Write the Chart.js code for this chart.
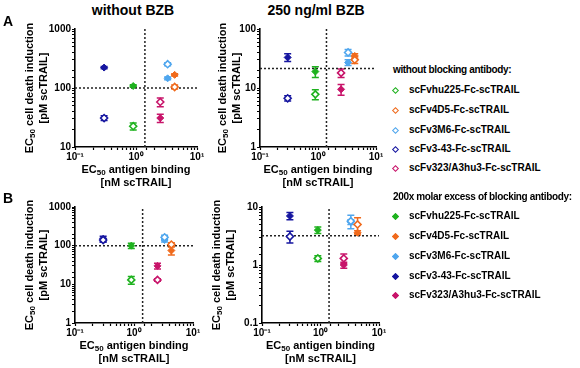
<!DOCTYPE html>
<html>
<head>
<meta charset="utf-8">
<script src="https://cdn.jsdelivr.net/npm/chart.js@4"></script>
<style>
  body { margin: 0; background: #fff; font-family: "Liberation Sans", Arial, sans-serif; }
  #wrap { position: relative; width: 580px; height: 368px; overflow: hidden; }
  canvas { position: absolute; }
  .t { position: absolute; font-weight: bold; color: #000; white-space: nowrap; }
  .title { font-size: 14px; transform: translateX(-50%); }
  .xt { font-size: 11px; transform: translateX(-50%); text-align: center; line-height: 13px; }
  .yt { font-size: 11px; transform: translate(-50%, -50%) rotate(-90deg); line-height: 13px; }
  .letter { font-size: 14px; }
  .leg { font-size: 10px; line-height: 12px; }
  .hdr { font-size: 10px; line-height: 12px; letter-spacing: -0.35px; }
  .mk { position: absolute; width: 5px; height: 5px; transform: rotate(45deg); box-sizing: border-box; }
  sub { font-size: 8px; vertical-align: -2px; line-height: 0; }
</style>
</head>
<body>
<div id="wrap"></div>
<script>
const antibodies = ['scFvhu225-Fc-scTRAIL', 'scFv4D5-Fc-scTRAIL', 'scFv3M6-Fc-scTRAIL', 'scFv3-43-Fc-scTRAIL', 'scFv323/A3hu3-Fc-scTRAIL'];
const colors = ['#1fb21f', '#f06a1c', '#4fa6ee', '#1616a0', '#c8146a'];

// EC50 antigen binding (nM), same for all panels
const binding = [0.9, 4.3, 3.3, 0.3, 2.5];
const bindingCut = 1.4;

// A, without BZB
const a1Open = [22.5, 104, 253, 31, 58];
const a1OpenErr = [3, 8, 15, 3, 10];
const a1Filled = [108, 167, 146, 222, 31];
const a1FilledErr = [5, 8, 8, 10, 5];
// A, 250 ng/ml BZB
const a2Open = [7.8, 30, 40, 6.7, 18];
const a2OpenErr = [1.5, 4, 5, 0.7, 3];
const a2Filled = [19, 35, 27, 33, 9.5];
const a2FilledErr = [4, 3, 3, 5, 2];
// B, without BZB
const b1Open = [13, 107, 165, 140, 13];
const b1OpenErr = [3, 12, 20, 15, 1];
const b1Filled = [100, 75, 140, 150, 30];
const b1FilledErr = [15, 18, 15, 25, 5];
// B, 250 ng/ml BZB
const b2Open = [1.3, 5.0, 5.7, 3.1, 1.3];
const b2OpenErr = [0.15, 1.5, 1.5, 0.7, 0.25];
const b2Filled = [4.0, 3.6, 5.5, 7.0, 1.0];
const b2FilledErr = [0.5, 0.3, 0.5, 1.0, 0.12];

const xRange = [0.1, 10];
const xTickLabels = { '-1': '10\u207B\u00B9', '0': '10\u2070', '1': '10\u00B9' };

const wrap = document.getElementById('wrap');
const FONT = '"Liberation Sans", Arial, sans-serif';

const errorBars = {
    id: 'errorBars',
    beforeDatasetsDraw(chart) {
        const ctx = chart.ctx;
        const x = chart.scales.x, y = chart.scales.y;
        chart.data.datasets.forEach(ds => {
            if (!ds.errors) return;
            ds.data.forEach((p, i) => {
                const e = ds.errors[i];
                const px = x.getPixelForValue(p.x);
                const top = y.getPixelForValue(p.y + e);
                const bot = y.getPixelForValue(p.y - e);
                ctx.save();
                ctx.strokeStyle = colors[i];
                ctx.lineWidth = 1.5;
                ctx.beginPath();
                ctx.moveTo(px, top); ctx.lineTo(px, bot);
                ctx.moveTo(px - 3.5, top); ctx.lineTo(px + 3.5, top);
                ctx.moveTo(px - 3.5, bot); ctx.lineTo(px + 3.5, bot);
                ctx.stroke();
                ctx.restore();
            });
        });
    }
};

function isDecade(v) {
    const l = Math.log10(v);
    return Math.abs(l - Math.round(l)) < 1e-6;
}

function addText(html, cls, left, top) {
    const d = document.createElement('div');
    d.className = 't ' + cls;
    d.style.left = left + 'px';
    d.style.top = top + 'px';
    d.innerHTML = html;
    wrap.appendChild(d);
    return d;
}

function makePanel(box, yRange, yCut, open, openErr, filled, filledErr) {
    const padL = 45, padT = 9, padR = 13, padB = 18;
    const c = document.createElement('canvas');
    const w = box.r - box.l + padL + padR;
    const h = box.b - box.t + padT + padB;
    c.width = w; c.height = h;
    c.style.left = (box.l - padL) + 'px';
    c.style.top = (box.t - padT) + 'px';
    wrap.appendChild(c);

    const pts = vals => vals.map((v, i) => ({ x: binding[i], y: v }));

    new Chart(c, {
        type: 'scatter',
        data: {
            datasets: [
                {
                    data: pts(open), errors: openErr,
                    pointStyle: 'rectRot', pointRadius: 3.5, pointBorderWidth: 1.6,
                    pointBackgroundColor: '#fff', pointBorderColor: colors
                },
                {
                    data: pts(filled), errors: filledErr,
                    pointStyle: 'rectRot', pointRadius: 3.5, pointBorderWidth: 1,
                    pointBackgroundColor: colors, pointBorderColor: colors
                },
                {
                    data: [{ x: xRange[0], y: yCut }, { x: xRange[1], y: yCut }],
                    showLine: true, pointRadius: 0, borderColor: '#222', borderWidth: 1.5, borderDash: [2, 2]
                },
                {
                    data: [{ x: bindingCut, y: yRange[0] }, { x: bindingCut, y: yRange[1] }],
                    showLine: true, pointRadius: 0, borderColor: '#222', borderWidth: 1.5, borderDash: [2, 2]
                }
            ]
        },
        options: {
            responsive: false,
            animation: false,
            events: [],
            layout: { padding: { left: 0, top: padT, right: padR, bottom: 0 } },
            plugins: { legend: { display: false }, tooltip: { enabled: false } },
            scales: {
                x: {
                    type: 'logarithmic', min: xRange[0], max: xRange[1],
                    grid: { drawOnChartArea: false, color: '#000', tickLength: 3, tickWidth: 1.2 },
                    border: { color: '#000', width: 1.6 },
                    ticks: {
                        autoSkip: false, maxRotation: 0, padding: 1, color: '#000',
                        font: { family: FONT, size: 10, weight: 'bold' },
                        callback: v => isDecade(v) ? xTickLabels[Math.round(Math.log10(v))] : ''
                    },
                    afterFit(s) { s.height = padB; s.paddingLeft = 0; s.paddingRight = 0; }
                },
                y: {
                    type: 'logarithmic', min: yRange[0], max: yRange[1],
                    grid: { drawOnChartArea: false, color: '#000', tickLength: 3, tickWidth: 1.2 },
                    border: { color: '#000', width: 1.6 },
                    ticks: {
                        autoSkip: false, padding: 1, color: '#000',
                        font: { family: FONT, size: 10, weight: 'bold' },
                        callback: v => isDecade(v) ? String(v) : ''
                    },
                    afterFit(s) { s.width = padL; s.paddingTop = 0; s.paddingBottom = 0; }
                }
            }
        },
        plugins: [errorBars]
    });

    const cx = (box.l + box.r) / 2, cy = (box.t + box.b) / 2;
    addText('EC<sub>50</sub> antigen binding<br>[nM scTRAIL]', 'xt', cx, box.b + 16);
    addText('EC<sub>50</sub> cell death induction', 'yt', box.l - box.yt1, cy);
    addText('[pM scTRAIL]', 'yt', box.l - box.yt1 + 14, cy);
}

makePanel({ l: 75, t: 29, r: 197, b: 147, yt1: 46 }, [10, 1000], 100, a1Open, a1OpenErr, a1Filled, a1FilledErr);
makePanel({ l: 260, t: 29, r: 376, b: 147, yt1: 38 }, [1, 100], 21.5, a2Open, a2OpenErr, a2Filled, a2FilledErr);
makePanel({ l: 75, t: 207, r: 193, b: 323, yt1: 46 }, [1, 1000], 100, b1Open, b1OpenErr, b1Filled, b1FilledErr);
makePanel({ l: 262, t: 207, r: 379, b: 323, yt1: 46 }, [0.1, 10], 3.2, b2Open, b2OpenErr, b2Filled, b2FilledErr);

addText('without BZB', 'title', 133, 2);
addText('250 ng/ml BZB', 'title', 316, 2);
addText('A', 'letter', 3, 13);
addText('B', 'letter', 3, 190);

function addLegend(header, top, filled) {
    addText(header, 'hdr', 393, top - 6);
    const ys = filled ? [216, 236, 256, 276, 295] : [90, 110, 130, 149, 168];
    antibodies.forEach((name, i) => {
        const m = document.createElement('div');
        m.className = 'mk';
        m.style.left = '393px';
        m.style.top = (ys[i] - 2.5) + 'px';
        m.style.border = '1.5px solid ' + colors[i];
        m.style.background = filled ? colors[i] : '#fff';
        wrap.appendChild(m);
        addText(name, 'leg', 409, ys[i] - 6);
    });
}
addLegend('without blocking antibody:', 70, false);
addLegend('200x molar excess of blocking antibody:', 197, true);
</script>
</body>
</html>
